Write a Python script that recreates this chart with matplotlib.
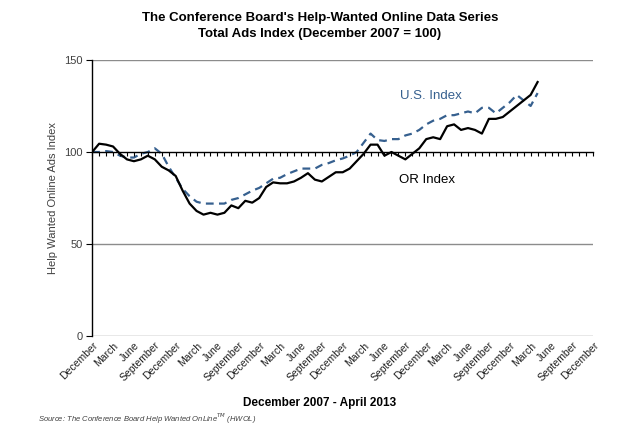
import numpy as np
import matplotlib
matplotlib.use("Agg")
import matplotlib.pyplot as plt

plt.rcParams['font.family'] = ['Liberation Sans', 'DejaVu Sans']

# monthly values, December 2007 .. April 2013
or_index = [100, 104.5, 104, 103, 99, 96, 95, 96, 98, 96, 92, 90,
            87, 79, 72, 68, 66, 67, 66, 67, 71, 69.5, 73.5, 72.5,
            75, 81, 83.5, 83, 83, 84, 86, 88.5, 85, 84, 86.5, 89,
            89, 91, 95, 99, 104, 104, 98, 100, 98, 96, 99, 102,
            107, 108, 107, 114, 115, 112, 113, 112, 110, 118, 118, 119,
            122, 125, 128, 131, 138]
us_index = [100, 100, 100.5, 100, 98, 97, 97, 99, 100, 102, 99, 92,
            86, 80, 76, 73, 72, 72, 72, 72, 74, 75, 77, 79,
            80.5, 83, 85.5, 86, 88, 89.5, 91, 91, 91, 93, 94, 95.5,
            96.5, 98, 100, 105, 110, 106.5, 106, 107, 107, 109, 110, 112,
            115, 117, 118, 120, 120, 121, 122, 121, 124, 124, 121, 124,
            127, 131, 128, 125, 132]
tick_months = ['December', 'March', 'June', 'September'] * 6 + ['December']
n_months = 72  # Dec 2007 .. Dec 2013 on the category axis

x = np.arange(len(or_index))

fig = plt.figure(figsize=(6.4, 4.25), dpi=100)
ax = fig.add_axes([0.144, 0.209, 0.783, 0.650])

ax.plot(x, or_index, color='black', lw=1.6, zorder=4)
ax.plot(x, us_index, color='#36608f', lw=1.6, dashes=(3.5, 2.4), zorder=3)

ax.set_xlim(0, n_months)
ax.set_ylim(0, 150)
ax.set_yticks([0, 50, 100, 150])
ax.tick_params(axis='y', direction='out', length=4, width=0.8,
               labelsize=8, colors='black', labelcolor='#404040', pad=3)
ax.set_xticks(np.arange(0, n_months + 1, 3))
ax.set_xticklabels(tick_months, rotation=45, ha='right',
                   rotation_mode='anchor', fontsize=7.5, color='#202020')
ax.tick_params(axis='x', length=0, pad=3)

for v in [0, 50, 150]:
    ax.axhline(v, color='#8c8c8c', lw=1, zorder=1)
for s in ['top', 'right', 'bottom']:
    ax.spines[s].set_visible(False)
ax.spines['left'].set_linewidth(1)

# category axis crossing at 100, with a tick each month
ax2 = ax.twiny()
ax2.set_xlim(0, n_months)
ax2.spines['bottom'].set_position(('data', 100))
ax2.spines['bottom'].set_color('black')
ax2.spines['bottom'].set_linewidth(1)
for s in ['top', 'right', 'left']:
    ax2.spines[s].set_visible(False)
ax2.xaxis.set_ticks_position('bottom')
ax2.set_xticks(np.arange(0, n_months + 1, 1))
ax2.tick_params(axis='x', direction='out', length=3, width=0.8,
                labelbottom=False, labeltop=False)

ax.set_ylabel('Help Wanted Online Ads Index', fontsize=8, color='#404040',
              labelpad=4)

ax.text(0.675, 0.87, 'U.S. Index', transform=ax.transAxes, fontsize=9.5,
        color='#36608f', ha='center', va='center')
ax.text(0.669, 0.565, 'OR Index', transform=ax.transAxes, fontsize=9.5,
        color='black', ha='center', va='center')

fig.text(0.5, 1 - 18 / 425, "The Conference Board's Help-Wanted Online Data Series",
         ha='center', va='center', fontsize=9.5, fontweight='bold')
fig.text(0.5, 1 - 34 / 425, 'Total Ads Index (December 2007 = 100)',
         ha='center', va='center', fontsize=9.5, fontweight='bold')
fig.text(0.5, 1 - 403 / 425, 'December 2007 - April 2013',
         ha='center', va='center', fontsize=8.5, fontweight='bold')
fig.text(0.06, 1 - 419 / 425,
         'Source: The Conference Board Help Wanted OnLine$^{TM}$ (HWOL)',
         ha='left', va='center', fontsize=5.5, style='italic', color='#404040')

fig.savefig('out.png', dpi=100)
